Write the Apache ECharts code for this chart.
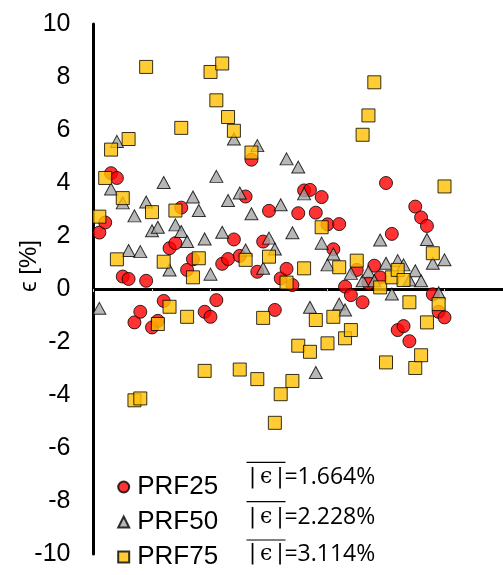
<!DOCTYPE html>
<html>
<head>
<meta charset="utf-8">
<script src="https://cdn.jsdelivr.net/npm/echarts@6/dist/echarts.min.js"></script>
<style>
  html, body { margin: 0; padding: 0; background: #fff; }
  #chart { width: 503px; height: 575px; }
</style>
</head>
<body>
<div id="chart"></div>
<script>
// Relative error ϵ [%] per sample index for the three PRF cases
const prf25Idx = [1,2,3,4,5,6,7,8,9,10,11,12,13,14,15,16,17,19,20,21,22,23,24,25,26,27,28,29,30,31,32,33,34,35,36,37,38,39,40,41,42,43,44,45,46,47,48,49,50,51,52,53,54,55,56,57,58,59,60];
const prf25Eps = [2.13,2.51,4.37,4.19,0.47,0.38,-1.26,-0.86,0.31,-1.45,-1.20,-0.45,1.54,1.73,3.07,0.72,1.12,-0.86,-1.05,-0.42,0.95,1.13,1.87,1.25,3.49,4.88,0.65,1.79,2.95,-0.79,0.40,0.76,0.15,2.86,3.72,3.74,2.88,3.47,2.44,1.50,2.45,0.09,-0.23,0.72,-0.50,0.22,0.88,0.44,4.00,2.08,-1.55,-1.40,-1.97,3.11,2.70,2.38,-0.20,-0.86,-1.07];

const prf50Idx = [1,3,4,5,6,7,8,9,10,11,12,13,14,15,16,17,18,19,20,21,22,23,24,25,26,27,28,29,30,31,32,33,34,35,36,37,38,39,40,41,42,43,44,46,47,48,49,50,51,52,53,54,55,56,57,58,59,60];
const prf50Eps = [-0.73,3.77,5.57,3.25,1.45,2.76,1.41,3.28,2.20,2.33,4.02,0.72,2.42,2.17,1.79,3.47,2.96,1.89,0.56,4.25,2.14,3.34,5.66,3.62,1.47,2.84,5.41,0.78,1.92,1.51,3.18,4.91,2.12,4.60,3.59,-0.69,-3.15,1.73,0.91,1.32,-0.57,-0.79,0.59,0.31,0.65,0.31,1.85,0.97,-0.19,1.07,0.91,0.34,0.69,0.31,1.87,0.97,-0.14,1.10];

const prf75Idx = [1,2,3,4,5,6,7,8,9,10,11,12,13,14,15,16,17,18,19,20,21,22,23,24,25,26,27,28,29,30,31,32,33,34,35,36,37,38,39,40,41,42,43,44,45,46,47,48,49,50,51,52,53,54,55,56,57,58,59,60];
const prf75Eps = [2.73,4.19,5.26,1.12,3.43,5.66,-4.20,-4.13,8.38,2.90,-1.32,1.03,-0.67,2.96,6.08,-1.05,0.44,1.16,-3.09,8.19,7.12,8.51,6.49,5.97,-3.04,1.10,5.15,-3.40,-1.09,1.22,-5.05,-3.97,0.24,-3.47,-2.14,0.78,-2.37,-1.17,2.33,-2.05,-1.05,0.82,-1.86,-1.55,1.07,5.82,6.55,7.80,0.06,-2.77,0.44,0.72,0.34,-0.50,-2.98,-2.50,-1.26,1.35,-0.57,3.87];

// Mean absolute error of each case
const seriesNames = ['PRF25', 'PRF50', 'PRF75'];
const meanAbsText = ['1.664%', '2.228%', '3.114%'];

const yTicks = { min: -10, max: 10, step: 2 };

function pairs(idx, eps) {
  return idx.map((x, i) => [x, eps[i]]);
}

const chart = echarts.init(document.getElementById('chart'), null, { renderer: 'canvas' });

const markerBorder = { borderColor: '#000', borderWidth: 1 };

// Overlined |ϵ| annotations beside the legend
const annotRows = [477.5, 517.5, 554];
const overlineRows = [462.3, 501.7, 540];
const graphics = [];
meanAbsText.forEach((v, i) => {
  const cy = annotRows[i];
  graphics.push({
    type: 'text',
    x: 248, y: cy,
    style: {
      text: '{b||}{e|ϵ}{b||}{n|=' + v + '}',
      verticalAlign: 'middle',
      fill: '#000',
      rich: {
        b: { font: '21px "DejaVu Sans", sans-serif', fill: '#000', padding: [0, 1, 0, 1] },
        e: { font: '22px "DejaVu Serif", serif', fill: '#000', padding: [0, 3, 0, 3] },
        n: { font: '23px "Open Sans", sans-serif', fill: '#000' }
      }
    }
  });
  graphics.push({
    type: 'line',
    shape: { x1: 246.5, y1: overlineRows[i], x2: 285.5, y2: overlineRows[i] },
    style: { stroke: '#000', lineWidth: 1.2 }
  });
});
// vertical axis title
graphics.push({
  type: 'text',
  x: 29, y: 266,
  rotation: Math.PI / 2,
  style: {
    text: 'ϵ [%]',
    font: '24px "Liberation Sans", "DejaVu Sans", sans-serif',
    fill: '#000',
    align: 'center',
    verticalAlign: 'middle'
  }
});

chart.setOption({
  animation: false,
  backgroundColor: '#fff',
  grid: { left: 93.5, top: 24, width: 476, height: 530, containLabel: false },
  legend: {
    orient: 'vertical',
    left: 117.2, top: 474,
    padding: 0,
    itemWidth: 11, itemHeight: 11,
    itemGap: 9,
    textStyle: {
      fontFamily: '"Liberation Sans", Arial, sans-serif', fontSize: 26, lineHeight: 26,
      color: '#000', padding: [0, 0, 0, 3]
    },
    data: seriesNames
  },
  xAxis: {
    type: 'value',
    min: 0, max: 70, interval: 10,
    axisLine: { show: true, onZero: true, lineStyle: { color: '#000', width: 3 } },
    axisTick: { show: true, length: 3, lineStyle: { color: '#c8c8c8', width: 1 } },
    axisLabel: { show: false },
    splitLine: { show: false }
  },
  yAxis: {
    type: 'value',
    min: yTicks.min, max: yTicks.max, interval: yTicks.step,
    axisLine: { show: true, onZero: false, lineStyle: { color: '#000', width: 3 } },
    axisTick: { show: false },
    axisLabel: { margin: 23, fontFamily: '"Liberation Sans", Arial, sans-serif', fontSize: 25, color: '#000' },
    splitLine: { show: false }
  },
  graphic: graphics,
  series: [
    {
      name: seriesNames[0], type: 'scatter', symbol: 'circle', symbolSize: 13,
      itemStyle: Object.assign({ color: '#ff0000' }, markerBorder),
      data: pairs(prf25Idx, prf25Eps), z: 2
    },
    {
      name: seriesNames[1], type: 'scatter', symbol: 'triangle', symbolSize: [13, 12],
      itemStyle: Object.assign({ color: '#a5a5a5' }, markerBorder),
      data: pairs(prf50Idx, prf50Eps), z: 3
    },
    {
      name: seriesNames[2], type: 'scatter', symbol: 'rect', symbolSize: 13,
      itemStyle: Object.assign({ color: '#ffc000' }, markerBorder),
      data: pairs(prf75Idx, prf75Eps), z: 4
    }
  ]
});
</script>
</body>
</html>
